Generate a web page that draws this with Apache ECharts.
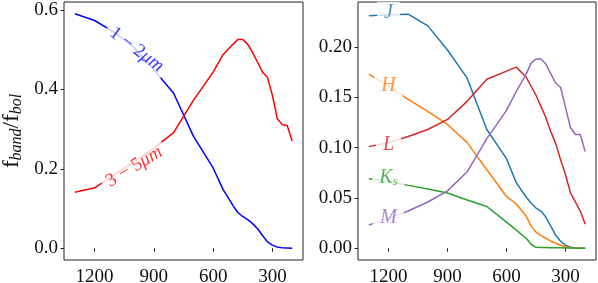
<!DOCTYPE html>
<html>
<head>
<meta charset="utf-8">
<script src="https://cdn.jsdelivr.net/npm/echarts@6/dist/echarts.min.js"></script>
<style>html,body{margin:0;padding:0;background:#fff}#c{width:598px;height:283px}</style>
</head>
<body>
<div id="c"></div>
<script>
// x values (cutoff) shared by all series
const xs = [1300,1200,1100,1000,900,800,700,600,550,500,475,450,425,400,375,350,325,300,275,250,225,200];
// left panel
const band12 = [0.590,0.573,0.543,0.505,0.449,0.390,0.282,0.202,0.148,0.108,0.090,0.080,0.072,0.062,0.049,0.032,0.016,0.008,0.003,0.001,0.0005,0.0];
const band35 = [0.141,0.152,0.185,0.218,0.252,0.291,0.372,0.443,0.487,0.513,0.525,0.525,0.513,0.492,0.468,0.443,0.430,0.385,0.326,0.311,0.309,0.270];
// right panel
const bandJ  = [0.231,0.232,0.2326,0.221,0.197,0.169,0.118,0.089,0.065,0.051,0.045,0.040,0.037,0.031,0.022,0.013,0.007,0.003,0.001,0.0003,0.0,0.0];
const bandH  = [0.173,0.161,0.148,0.136,0.123,0.105,0.078,0.0515,0.044,0.032,0.022,0.016,0.0125,0.010,0.007,0.005,0.003,0.0015,0.0005,0.0002,0.0,0.0];
const bandL  = [0.101,0.105,0.111,0.118,0.128,0.146,0.168,0.176,0.180,0.170,0.161,0.152,0.141,0.130,0.116,0.104,0.088,0.073,0.055,0.046,0.037,0.024];
const bandKs = [0.069,0.0667,0.0625,0.059,0.055,0.048,0.0415,0.026,0.018,0.010,0.004,0.001,0.0008,0.0008,0.0006,0.0005,0.0004,0.0003,0.0002,0.0002,0.0001,0.0001];
const bandM  = [0.023,0.030,0.037,0.046,0.057,0.076,0.109,0.137,0.156,0.173,0.184,0.188,0.188,0.183,0.1735,0.164,0.160,0.140,0.120,0.113,0.113,0.096];
// ticks
const xTicks = [1200,900,600,300];
const yTicksLeft = [0,0.2,0.4,0.6];
const yTicksRight = [0,0.05,0.10,0.15,0.20];
// inline labels (data coordinates)
const leftLabelText = ['{n|1 − 2}{i|μm}','{n|3 − 5}{i|μm}'];
const leftLabelX = [988,1000];
const leftLabelY = [0.500,0.205];
const rightLabelText = ['{i|J}','{i|H}','{i|L}','{i|K}{s|s}','{i|M}'];
const rightLabelX = [1200,1200,1200,1200,1200];
const rightLabelY = [0.234,0.161,0.103,0.070,0.030];

const FONT = '"Liberation Serif","DejaVu Serif",serif';
const pairs = ys => xs.map((x,i)=>[x, ys[i]]);

function xAx(g){
  return {type:'value', gridIndex:g, inverse:true, min:145, max:1355,
    axisLine:{show:false}, splitLine:{show:false},
    axisTick:{show:true, customValues:xTicks, length:3.5, lineStyle:{color:'#222',width:1}},
    axisLabel:{customValues:xTicks, fontFamily:FONT, fontSize:19, color:'#111', margin:8,
      formatter:v=>String(Math.round(v))}};
}
function yAx(g,min,max,ticks,dec,extra){
  return Object.assign({type:'value', gridIndex:g, min:min, max:max,
    axisLine:{show:false}, splitLine:{show:false},
    axisTick:{show:true, customValues:ticks, length:3.5, lineStyle:{color:'#222',width:1}},
    axisLabel:{customValues:ticks, fontFamily:FONT, fontSize:19, color:'#111', margin:6,
      formatter:v=>Number(v).toFixed(dec)}}, extra||{});
}
function line(g, ys, color){
  return {type:'line', xAxisIndex:g, yAxisIndex:g, data:pairs(ys), showSymbol:false, symbol:'none',
    smooth:false, lineStyle:{color:color, width:1.5}, itemStyle:{color:color}, silent:true, z:2};
}

const leftColors = ['#0000ff','#ff0000'];
const leftRot = [-37, 31];
const rightColors = ['#1f77b4','#ff7f0e','#d62728','#2ca02c','#9467bd'];

const leftLabels = leftLabelText.map((t,i)=>({
  value:[leftLabelX[i], leftLabelY[i]],
  label:{show:true, position:'inside', formatter:t, rotate:leftRot[i], backgroundColor:'#fff', padding:[0,5],
    rich:{n:{fontFamily:FONT, fontSize:19, color:leftColors[i]}, i:{fontFamily:FONT, fontStyle:'italic', fontSize:19, color:leftColors[i]}}}
}));
const rightLabels = rightLabelText.map((t,i)=>({
  value:[rightLabelX[i], rightLabelY[i]],
  label:{show:true, position:'inside', formatter:t, backgroundColor:'#fff', padding:[1,7],
    rich:{i:{fontFamily:FONT, fontStyle:'italic', fontSize:20, color:rightColors[i], lineHeight:20, verticalAlign:'middle'},
          s:{fontFamily:FONT, fontStyle:'italic', fontSize:13, color:rightColors[i], lineHeight:12, verticalAlign:'bottom'}}}
}));

const chart = echarts.init(document.getElementById('c'), null, {renderer:'canvas'});
chart.setOption({
  animation:false,
  grid:[
    {left:64, top:2, width:239, height:258, show:true, borderColor:'#222', borderWidth:1, backgroundColor:'transparent', containLabel:false, outerBoundsMode:'none'},
    {left:358, top:2, width:238, height:258, show:true, borderColor:'#222', borderWidth:1, backgroundColor:'transparent', containLabel:false, outerBoundsMode:'none'}
  ],
  xAxis:[xAx(0), xAx(1)],
  yAxis:[
    yAx(0,-0.0295,0.6195,yTicksLeft,1,{
      name:'{a|f}{b|band}{a|/f}{b|bol}', nameLocation:'middle', nameRotate:90, nameGap:39,
      nameTextStyle:{rich:{
        a:{fontFamily:FONT, fontSize:23, color:'#111', lineHeight:26, verticalAlign:'middle'},
        b:{fontFamily:FONT, fontStyle:'italic', fontSize:16, color:'#111', lineHeight:15, verticalAlign:'bottom'}}}
    }),
    yAx(1,-0.01165,0.2447,yTicksRight,2)
  ],
  series:[
    line(0, band12, leftColors[0]),
    line(0, band35, leftColors[1]),
    line(1, bandJ, rightColors[0]),
    line(1, bandH, rightColors[1]),
    line(1, bandL, rightColors[2]),
    line(1, bandKs, rightColors[3]),
    line(1, bandM, rightColors[4]),
    {type:'scatter', xAxisIndex:0, yAxisIndex:0, symbolSize:0, data:leftLabels, z:10, silent:true},
    {type:'scatter', xAxisIndex:1, yAxisIndex:1, symbolSize:0, data:rightLabels, z:10, silent:true}
  ]
});
</script>
</body>
</html>
